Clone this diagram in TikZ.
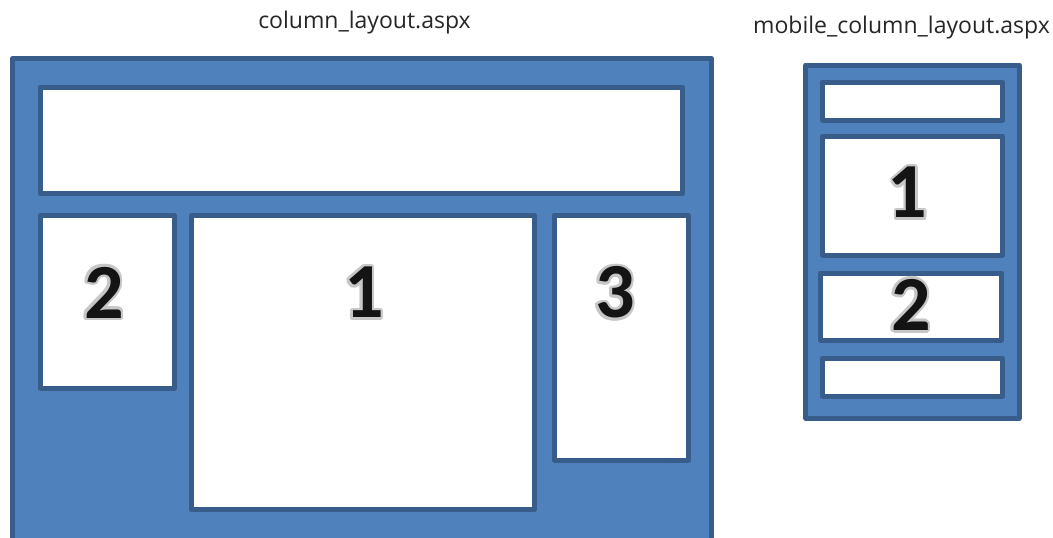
\documentclass[tikz,border=0pt]{standalone}
\usepackage{fontspec}
\setmainfont{Open Sans}
\newfontfamily\digitfont{Carlito Bold}
\definecolor{fillblue}{HTML}{4F81BD}
\definecolor{edgeblue}{HTML}{385D8A}
\newcommand\glowdigit[1]{%
  {\color{black!22}\foreach \a in {0,30,...,330}{%
    \pgfmathsetmacro\gdx{2.6*cos(\a)}\pgfmathsetmacro\gdy{2.6*sin(\a)}%
    \rlap{\kern\gdx pt\raisebox{\gdy pt}{#1}}}}%
  #1}
\begin{document}
\begin{tikzpicture}[x=1pt,y=-1pt,
  panel/.style={draw=edgeblue, line width=5pt, fill=white, line join=round},
  frame/.style={draw=edgeblue, line width=5pt, fill=fillblue, line join=round},
  title/.style={font=\fontsize{23}{27}\selectfont, anchor=base, inner sep=0pt, text=black!85},
  digit/.style={font=\digitfont\fontsize{78}{80}\selectfont, inner sep=0pt, text=black!92}]
\useasboundingbox (0,0) rectangle (1053,538);
\clip (0,0) rectangle (1053,538);
% desktop layout
\draw[frame] (12.5,58.5) rectangle (711.5,580);
\draw[panel] (40,87) rectangle (682.5,193.5);
\draw[panel] (40,215.5) rectangle (174,388.5);
\draw[panel] (191.5,215.5) rectangle (534.5,509.5);
\draw[panel] (554,215.5) rectangle (688,460);
% mobile layout
\draw[frame] (805.8,65) rectangle (1019,418);
\draw[panel] (822.5,82) rectangle (1002.5,120);
\draw[panel] (822.5,136) rectangle (1002.5,255);
\draw[panel] (820.5,273) rectangle (1001,340);
\draw[panel] (822.5,358.5) rectangle (1002.5,396);
% titles
\node[title] (t1) at (364.5,28.3) {column\_layout.aspx};
\node[title] (t2) at (901.5,33.3) {mobile\_column\_layout.aspx};
% digits with a soft grey glow
\node[digit] (d2) at (104,292.5) {\glowdigit{2}};
\node[digit] (d1) at (364,292.5) {\glowdigit{1}};
\node[digit] (d3) at (615,292.5) {\glowdigit{3}};
\node[digit] (md1) at (907.5,192.5) {\glowdigit{1}};
\node[digit] (md2) at (911,305) {\glowdigit{2}};
\end{tikzpicture}
\end{document}
